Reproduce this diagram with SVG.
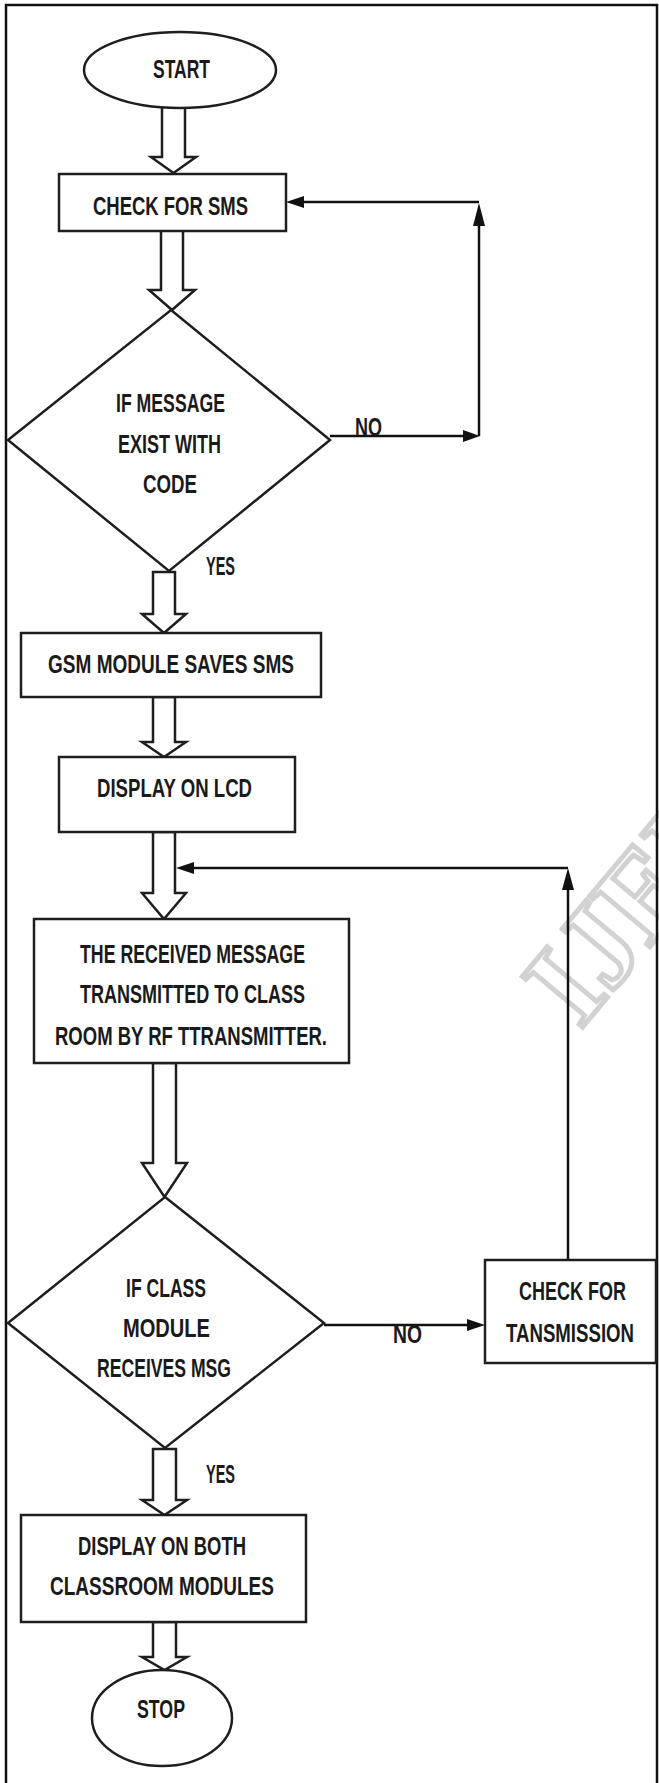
<svg xmlns="http://www.w3.org/2000/svg" width="659" height="1783" viewBox="0 0 659 1783">
<style>
.shape{fill:#fff;stroke:#1e1e1e;stroke-width:2.5}
.hollow{fill:#fff;stroke:#1e1e1e;stroke-width:2.5;stroke-linejoin:miter}
.line{fill:none;stroke:#111;stroke-width:2.5}
.head{fill:#111;stroke:none}
.t{font-family:"Liberation Sans",Arial,sans-serif;font-weight:bold;font-size:26px;fill:#1a1a1a}
.wm{font-family:"Liberation Serif","Times New Roman",serif;font-weight:bold;font-size:120px;fill:none;stroke:#d2d2d2;stroke-width:5}
</style>
<rect x="0" y="0" width="659" height="1783" fill="#fff"/>
<text class="wm" transform="translate(580,1030) rotate(-50)">IJERT</text>
<path d="M6,1783 V5 H657 V1783" fill="none" stroke="#111" stroke-width="2.5"/>

<g id="connectors">
  <path class="hollow" d="M162,106 V157 H151 L173.5,173 L196,157 H185 V106"/>
  <path class="hollow" d="M161,231 V290 H149 L172,310 L195,290 H183 V231"/>
  <path class="hollow" d="M153,572 V614 H142 L164,633 L186,614 H175 V572 Z"/>
  <path class="hollow" d="M153,697 V742 H142 L164,757 L186,742 H175 V697 Z"/>
  <path class="hollow" d="M153,832 V893 H142 L164,919 L186,893 H175 V832 Z"/>
  <path class="hollow" d="M153,1063 V1163 H142 L164.5,1197 L187,1163 H176 V1063 Z"/>
  <path class="hollow" d="M153,1449 V1500 H142 L164.5,1515 L187,1500 H176 V1449 Z"/>
  <path class="hollow" d="M153,1622 V1657 H142 L164.5,1670 L187,1657 H176 V1622 Z"/>
  <path class="line" d="M330,436 H466"/>
  <polygon class="head" points="480,436 463,430 463,442"/>
  <path class="line" d="M479,436 V222"/>
  <polygon class="head" points="479,203 473,226 485,226"/>
  <path class="line" d="M479,202 H300"/>
  <polygon class="head" points="286,202 304,196 304,208"/>
  <path class="line" d="M324,1325 H472"/>
  <polygon class="head" points="485,1325 467,1319 467,1331"/>
  <path class="line" d="M568,1260 V886"/>
  <polygon class="head" points="568,868 562,890 574,890"/>
  <path class="line" d="M568,868 H190"/>
  <polygon class="head" points="176,868 194,862 194,874"/>
  <text class="t" x="355" y="436" textLength="27" lengthAdjust="spacingAndGlyphs" font-size="24">NO</text>
  <text class="t" x="206" y="575" textLength="29" lengthAdjust="spacingAndGlyphs">YES</text>
  <text class="t" x="393" y="1343" textLength="29" lengthAdjust="spacingAndGlyphs" font-size="22">NO</text>
  <text class="t" x="206" y="1483" textLength="29" lengthAdjust="spacingAndGlyphs">YES</text>
</g>

<g id="start">
  <ellipse class="shape" cx="180" cy="70" rx="96" ry="38"/>
  <text class="t" x="153" y="78" textLength="57" lengthAdjust="spacingAndGlyphs">START</text>
</g>

<g id="check-sms">
  <rect class="shape" x="59" y="174" width="227" height="57"/>
  <text class="t" x="93" y="215" textLength="155" lengthAdjust="spacingAndGlyphs">CHECK FOR SMS</text>
</g>

<g id="decision-message">
  <polygon class="shape" points="171,310 330,440 169,571 8,440"/>
  <text class="t" x="116" y="412" textLength="109" lengthAdjust="spacingAndGlyphs">IF MESSAGE</text>
  <text class="t" x="118" y="453" textLength="103" lengthAdjust="spacingAndGlyphs">EXIST WITH</text>
  <text class="t" x="143" y="493" textLength="54" lengthAdjust="spacingAndGlyphs">CODE</text>
</g>

<g id="gsm-save">
  <rect class="shape" x="21" y="633" width="300" height="64"/>
  <text class="t" x="48" y="673" textLength="246" lengthAdjust="spacingAndGlyphs">GSM MODULE SAVES SMS</text>
</g>

<g id="display-lcd">
  <rect class="shape" x="59" y="757" width="236" height="75"/>
  <text class="t" x="97" y="797" textLength="155" lengthAdjust="spacingAndGlyphs">DISPLAY ON LCD</text>
</g>

<g id="transmit">
  <rect class="shape" x="34" y="919" width="315" height="144"/>
  <text class="t" x="80" y="963" textLength="225" lengthAdjust="spacingAndGlyphs">THE RECEIVED MESSAGE</text>
  <text class="t" x="80" y="1003" textLength="225" lengthAdjust="spacingAndGlyphs">TRANSMITTED TO CLASS</text>
  <text class="t" x="55" y="1045" textLength="272" lengthAdjust="spacingAndGlyphs">ROOM BY RF TTRANSMITTER.</text>
</g>

<g id="decision-class">
  <polygon class="shape" points="165,1197 324,1323 165,1448 8,1323"/>
  <text class="t" x="126" y="1297" textLength="80" lengthAdjust="spacingAndGlyphs">IF CLASS</text>
  <text class="t" x="123" y="1337" textLength="87" lengthAdjust="spacingAndGlyphs">MODULE</text>
  <text class="t" x="97" y="1377" textLength="134" lengthAdjust="spacingAndGlyphs">RECEIVES MSG</text>
</g>

<g id="check-transmission">
  <rect class="shape" x="485" y="1260" width="171" height="103"/>
  <text class="t" x="519" y="1300" textLength="107" lengthAdjust="spacingAndGlyphs">CHECK FOR</text>
  <text class="t" x="506" y="1342" textLength="128" lengthAdjust="spacingAndGlyphs">TANSMISSION</text>
</g>

<g id="display-both">
  <rect class="shape" x="21" y="1515" width="285" height="107"/>
  <text class="t" x="78" y="1555" textLength="168" lengthAdjust="spacingAndGlyphs">DISPLAY ON BOTH</text>
  <text class="t" x="50" y="1595" textLength="224" lengthAdjust="spacingAndGlyphs">CLASSROOM MODULES</text>
</g>

<g id="stop">
  <ellipse class="shape" cx="162" cy="1718" rx="70" ry="48"/>
  <text class="t" x="137" y="1718" textLength="48" lengthAdjust="spacingAndGlyphs">STOP</text>
</g>
</svg>
